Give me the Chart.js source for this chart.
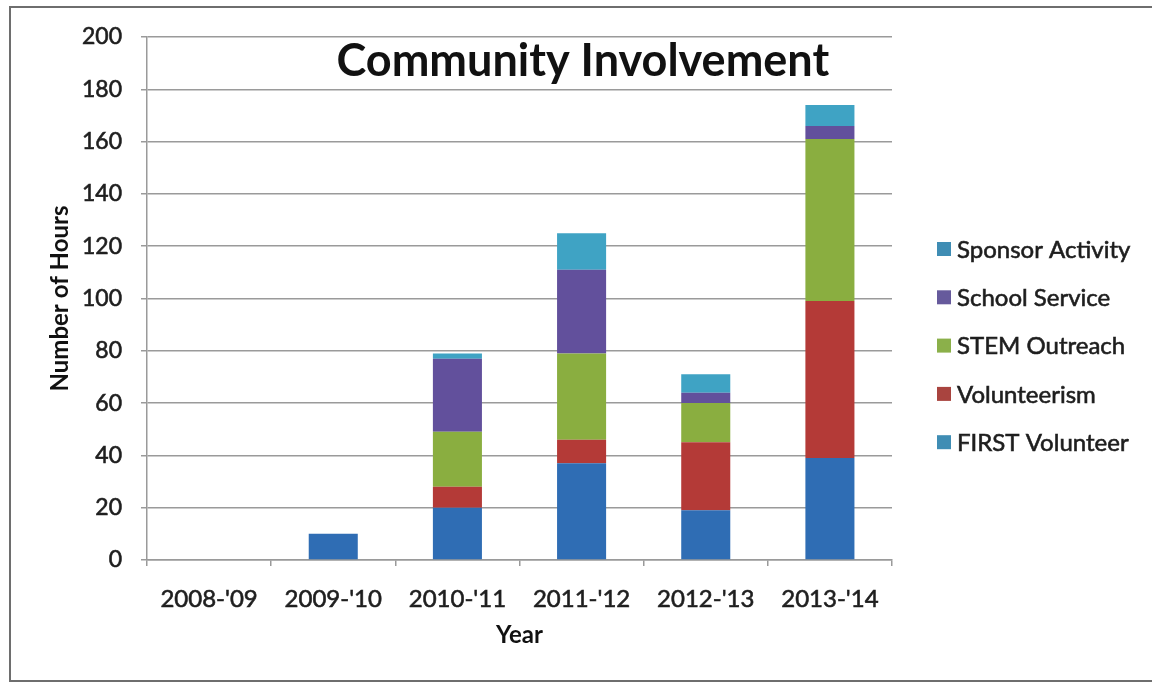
<!DOCTYPE html>
<html>
<head>
<meta charset="utf-8">
<title>Community Involvement</title>
<script src="https://cdn.jsdelivr.net/npm/chart.js@4.4.1/dist/chart.umd.min.js"></script>
<style>
  html, body { margin: 0; padding: 0; background: #fff; }
  #wrap { position: relative; width: 1152px; height: 682px; }
  #frame {
    position: absolute; left: 9px; top: 6px; width: 1160px; height: 676px;
    border: 2px solid #6e6e6e; box-sizing: border-box; pointer-events: none;
  }
</style>
</head>
<body>
<div id="wrap">
  <canvas id="hours-chart" width="1152" height="682"></canvas>
  <div id="frame"></div>
</div>
<script>
var years = ["2008-'09", "2009-'10", "2010-'11", "2011-'12", "2012-'13", "2013-'14"];

// hours per category, stacked bottom to top
var firstVolunteer  = [0, 10, 20, 37, 19, 39];
var volunteerism    = [0, 0, 8, 9, 26, 60];
var stemOutreach    = [0, 0, 21, 33, 15, 62];
var schoolService   = [0, 0, 28, 32, 4, 5];
var sponsorActivity = [0, 0, 2, 14, 7, 8];

var yMin = 0, yMax = 200, yStep = 20;

var textColor = "#1e1e1e";
var gridColor = "#9a9a9a";

// title sits inside the plot, a bit right of centre
var plotTitle = {
    id: "plotTitle",
    afterDraw: function(chart) {
        var ctx = chart.ctx, area = chart.chartArea;
        ctx.save();
        ctx.font = "bold 45px Lato";
        ctx.fillStyle = "#111";
        ctx.textAlign = "center";
        ctx.textBaseline = "middle";
        ctx.fillText("Community Involvement", area.left + area.width * 0.585, area.top + 24);
        ctx.restore();
    }
};

// legend listed top series first, down the right side
var sideLegend = {
    id: "sideLegend",
    afterDraw: function(chart) {
        var ctx = chart.ctx, area = chart.chartArea;
        var sets = chart.data.datasets.slice().reverse();
        ctx.save();
        ctx.font = "24px Lato";
        ctx.textBaseline = "middle";
        ctx.textAlign = "left";
        ctx.lineWidth = 0.6;
        for (var i = 0; i < sets.length; i++) {
            var y = area.top + 212 + i * 48.3;
            var x = area.right + 45;
            ctx.fillStyle = sets[i].legendColor || sets[i].backgroundColor;
            ctx.fillRect(x, y - 7, 14, 14);
            ctx.fillStyle = textColor;
            ctx.strokeStyle = textColor;
            ctx.fillText(sets[i].label, x + 20, y + 1);
            ctx.strokeText(sets[i].label, x + 20, y + 1);
        }
        ctx.restore();
    }
};

function draw() {
    Chart.defaults.font.family = "Lato";
    Chart.defaults.color = textColor;

    var ctx = document.getElementById("hours-chart").getContext("2d");
    new Chart(ctx, {
        type: "bar",
        data: {
            labels: years,
            datasets: [
                { label: "FIRST Volunteer",  data: firstVolunteer,  backgroundColor: "#2f6db4", legendColor: "#3f8db4" },
                { label: "Volunteerism",     data: volunteerism,    backgroundColor: "#b43a37", legendColor: "#a9443f" },
                { label: "STEM Outreach",    data: stemOutreach,    backgroundColor: "#8aae40", legendColor: "#8bb04a" },
                { label: "School Service",   data: schoolService,   backgroundColor: "#62509c", legendColor: "#665a9c" },
                { label: "Sponsor Activity", data: sponsorActivity, backgroundColor: "#3fa3c4", legendColor: "#3f8db4" }
            ]
        },
        options: {
            responsive: false,
            animation: false,
            categoryPercentage: 1,
            barPercentage: 0.395,
            layout: { padding: { top: 37, right: 260, bottom: 0, left: 0 } },
            plugins: {
                legend: { display: false },
                title: { display: false },
                tooltip: { enabled: false }
            },
            scales: {
                x: {
                    stacked: true,
                    afterFit: function(scale) { scale.height = 122; },
                    grid: { drawOnChartArea: false, drawTicks: true, tickLength: 6, color: gridColor, lineWidth: 1.5 },
                    border: { color: gridColor, width: 1.5 },
                    ticks: { padding: 19, font: { size: 24 }, color: textColor, textStrokeWidth: 0.6, textStrokeColor: textColor },
                    title: { display: true, text: "Year", font: { size: 24, weight: "bold" }, color: "#111", padding: { top: 4, bottom: 32 } }
                },
                y: {
                    stacked: true,
                    min: yMin,
                    max: yMax,
                    afterFit: function(scale) { scale.width = 147; },
                    grid: { color: gridColor, lineWidth: 1.5, tickLength: 6 },
                    border: { color: gridColor, width: 1.5 },
                    ticks: { stepSize: yStep, padding: 19, font: { size: 23 }, color: textColor, textStrokeWidth: 0.6, textStrokeColor: textColor },
                    title: { display: true, text: "Number of Hours", font: { size: 24, weight: "bold" }, color: "#111", padding: { top: 46, bottom: 4 } }
                }
            }
        },
        plugins: [plotTitle, sideLegend]
    });
}

if (document.fonts && document.fonts.load) {
    Promise.all([document.fonts.load("24px Lato"), document.fonts.load("bold 45px Lato")]).then(draw, draw);
} else {
    draw();
}
</script>
</body>
</html>
